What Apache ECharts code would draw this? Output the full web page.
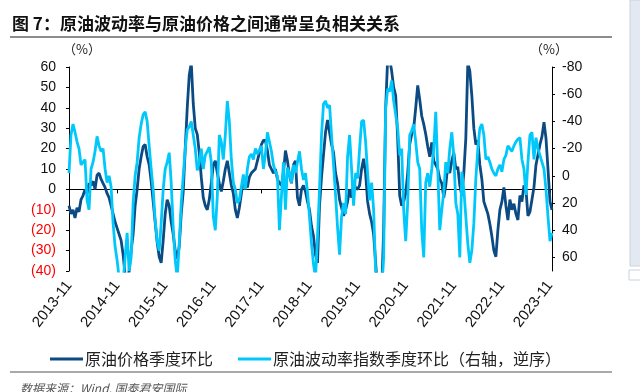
<!DOCTYPE html>
<html>
<head>
<meta charset="utf-8">
<script src="https://cdn.jsdelivr.net/npm/echarts@6/dist/echarts.min.js"></script>
<style>
  html, body { margin: 0; padding: 0; background: #fff; }
  #chart { width: 640px; height: 392px; }
</style>
</head>
<body>
<div id="chart"></div>
<script>
// 原油价格季度环比 vs 原油波动率指数季度环比（右轴逆序）
// 半月一个点，从 2013-11 起

var startYear = 2013, startMonth = 11;
var tickLabels = ['2013-11', '2014-11', '2015-11', '2016-11', '2017-11', '2018-11',
                  '2019-11', '2020-11', '2021-11', '2022-11', '2023-11'];

// 原油价格季度环比 (%) 左轴
var oilPrice = [
  -8, -12, -10, -14, -9, -11, -5, -3, 0, -2,
  3, 2, 4, 0, 7, 8, 5, 3, 1, -2,
  -4, -8, -12, -16, -19, -22, -25, -32, -42, -45,
  -40, -30, -22, -8, 0, 10, 16, 21, 22, 16,
  12, 4, -6, -16, -26, -33, -36, -25, -12, -5,
  -8, -16, -22, -30, -34, -28, -12, -1, 20, 40,
  56, 62, 42, 30, 27, 18, 6, -4, -8, -10,
  -5, 3, 12, 14, 8, 3, -1, 4, 10, 14,
  8, 2, -2, -10, -14, -9, -2, 5, 3, 1,
  6, 8, 9, 10, 14, 18, 22, 24, 24, 19,
  12, 10, 8, 10, 5, 3, 2, 8, 19, 14,
  7, 3, 12, 14, -4, -8, 0, 2, -1, -6,
  -10, -18, -23, -32, -36, -8, 6, 17, 28, 34,
  28, 22, 18, 8, 3, -5, -9, -13, -10, -6,
  0, -4, 3, 1, 0, 2, 10, 15, 8, -6,
  -12, -16, -22, -36, -50, -55, -50, -20, 40, 64,
  64, 58, 50, 46, 25, -3, -8, -6, -2, 8,
  22, 27, 30, 40, 51, 44, 36, 32, 27, 21,
  16, 23, 14, 12, 10, 5, 3, -4, 2, 12,
  8, 14, 18, 10, 11, 2, -3, 8, 25, 62,
  58, 46, 30, 22, 24, 12, 5, -6, -9, -12,
  -17, -23, -30, -33, -20, -10, -6, 1, -8, -15,
  -5, -10, -7, -12, -15, -3, -6, 2, 0, -13,
  -11, -5, 1, 12, 17, 22, 26, 33, 25, 10,
  -6, -10
];

// 原油波动率指数季度环比 (%) 右轴，逆序
var oilVol = [
  -2, -30, -38, -32, -25, -20, -8, -10, -12, 18,
  25, -5, -10, -18, -29, -22, -18, -20, -5, 5,
  0, 8, 35, 52, 62, 75, 80, 78, 60, 42,
  70, 60, 20, 0, -10, -28, -38, -45, -47, -40,
  -22, -5, 10, 33, 48, 55, 35, 10, -5, -10,
  -17, 5, 38, 62, 75, 50, 20, 0, -20, -34,
  -36, -40, -30, -20, -4, -10, -20, -5, -15, -18,
  -21, -10, 30, 40, 15, -30, -25, -12, -30, -55,
  -40, -12, 5, 10, 20, 18, 8, -1, 10, -5,
  -14, -16, -12, -20, -16, -19, -22, -5, -16, -32,
  -25, -18, -8, -3, 0, 40, 15, -10, 25, -6,
  -2, 5, -8, -2, -10, -18, -5, 3, -2, 12,
  30, 50, 65, 75, 45, 10, -30, -53, -55, -50,
  -52, -30, -8, 14, 38, 58, 30, 20, 28, -14,
  -30, -5, 22, -2, 2, -20, -40, -41, -25, -2,
  18, 5, 25, 70, 85, 85, 85, 60, -50, -64,
  -62, -70, -55, -45, -35, -15, -20, 25, 48, 20,
  -30, -33, -38, -25, -10, -5, 40, 60, 5, -2,
  8, -5, -20, -47, -5, 40, 25, 12, -10, -2,
  -20, -32, -15, 20, 28, 60, -3, 10, 30, 50,
  64, 55, 35, 2, -20, -35, -38, -30, -12, -14,
  -10, -5, -2, 0, -5, -8, -3, -12, -15, -22,
  -20, -18, -22, -25, -27, -28, -12, -5, 14, -10,
  -30, -32, -12, -28, -20, -15, -10, -5, 10, 30,
  48, 42
];

var dates = [];
for (var i = 0; i < oilPrice.length; i++) {
    var m = startMonth - 1 + Math.floor(i / 2);
    var y = startYear + Math.floor(m / 12);
    var mm = (m % 12) + 1;
    dates.push(y + '-' + (mm < 10 ? '0' + mm : mm) + (i % 2 ? '-16' : '-01'));
}

var numFont = "'Liberation Sans', Arial, sans-serif";
var cnFont = "'Noto Sans CJK SC', sans-serif";

var myChart = echarts.init(document.getElementById('chart'), null, { renderer: 'canvas' });

var option = {
    animation: false,
    backgroundColor: '#fff',
    title: {
        text: '图 7：原油波动率与原油价格之间通常呈负相关关系',
        left: 7,
        top: 10,
        textStyle: { fontFamily: cnFont, fontSize: 17, fontWeight: 'bold', color: '#111' }
    },
    graphic: [
        { type: 'line', shape: { x1: 10, y1: 37, x2: 612, y2: 37 }, style: { stroke: '#8c8c8c', lineWidth: 2 } },
        { type: 'line', shape: { x1: 10, y1: 372, x2: 612, y2: 372 }, style: { stroke: '#8c8c8c', lineWidth: 1.5 } },
        { type: 'text', left: 63, top: 43, style: { text: '（%）', font: '13px ' + cnFont, fill: '#222' } },
        { type: 'text', left: 530, top: 43, style: { text: '（%）', font: '13px ' + cnFont, fill: '#222' } },
        { type: 'text', left: 20, top: 382, style: { text: '数据来源：Wind, 国泰君安国际', font: 'italic 12px ' + cnFont, fill: '#555' } },
        { type: 'rect', shape: { x: 630, y: 0, width: 12, height: 266 }, style: { fill: '#e3e9f1', stroke: '#c9d2de', lineWidth: 1 } },
        { type: 'rect', shape: { x: 629, y: 270, width: 12, height: 10 }, style: { fill: '#fff', stroke: '#c9d2de', lineWidth: 1 } }
    ],
    legend: {
        left: 45,
        top: 346,
        itemGap: 25,
        itemWidth: 33,
        itemHeight: 3,
        icon: 'rect',
        textStyle: { fontFamily: cnFont, fontSize: 16, color: '#222', padding: [0, 0, 0, -3] },
        data: ['原油价格季度环比', '原油波动率指数季度环比（右轴，逆序）']
    },
    grid: { left: 69, right: 88, top: 67, bottom: 121, containLabel: false },
    xAxis: [{
        type: 'category',
        data: dates,
        boundaryGap: false,
        axisLine: { show: false, onZero: false },
        axisTick: { show: false },
        splitLine: { show: false },
        axisLabel: {
            interval: function (idx) { return idx % 24 === 0; },
            formatter: function (v, idx) { return tickLabels[Math.round(idx / 24)]; },
            rotate: 52,
            margin: 12,
            fontFamily: numFont,
            fontSize: 15,
            color: '#111'
        }
    }, {
        type: 'category',
        data: dates,
        boundaryGap: false,
        position: 'bottom',
        axisLine: { show: true, onZero: true, onZeroAxisIndex: 0, lineStyle: { color: '#000', width: 1 } },
        axisTick: {
            show: true,
            length: 4,
            interval: function (idx) { return idx % 72 === 24; },
            lineStyle: { color: '#000' }
        },
        axisLabel: { show: false },
        splitLine: { show: false }
    }],
    yAxis: [{
        type: 'value',
        position: 'left',
        min: -40,
        max: 60,
        interval: 10,
        axisLine: { show: true, lineStyle: { color: '#000', width: 1 } },
        axisTick: { show: true, length: 3, lineStyle: { color: '#000' } },
        splitLine: { show: false },
        axisLabel: {
            margin: 13,
            fontFamily: numFont,
            fontSize: 14,
            formatter: function (v) { return v < 0 ? '(' + (-v) + ')' : String(v); },
            color: function (v) { return Number(v) < 0 ? '#ff0000' : '#111'; }
        }
    }, {
        type: 'value',
        position: 'right',
        inverse: true,
        min: -80,
        max: 70,
        interval: 20,
        axisLine: { show: true, lineStyle: { color: '#000', width: 1 } },
        axisTick: { show: true, length: 3, lineStyle: { color: '#000' } },
        splitLine: { show: false },
        axisLabel: {
            margin: 10,
            showMaxLabel: false,
            fontFamily: numFont,
            fontSize: 14,
            color: '#111'
        }
    }],
    series: [{
        name: '原油价格季度环比',
        type: 'line',
        xAxisIndex: 0,
        yAxisIndex: 0,
        data: oilPrice,
        symbol: 'none',
        clip: true,
        lineStyle: { color: '#0b4a82', width: 2.8 },
        itemStyle: { color: '#0b4a82' }
    }, {
        name: '原油波动率指数季度环比（右轴，逆序）',
        type: 'line',
        xAxisIndex: 0,
        yAxisIndex: 1,
        data: oilVol,
        symbol: 'none',
        clip: true,
        lineStyle: { color: '#00c8fb', width: 2.8 },
        itemStyle: { color: '#00c8fb' }
    }]
};

myChart.setOption(option);
</script>
</body>
</html>
